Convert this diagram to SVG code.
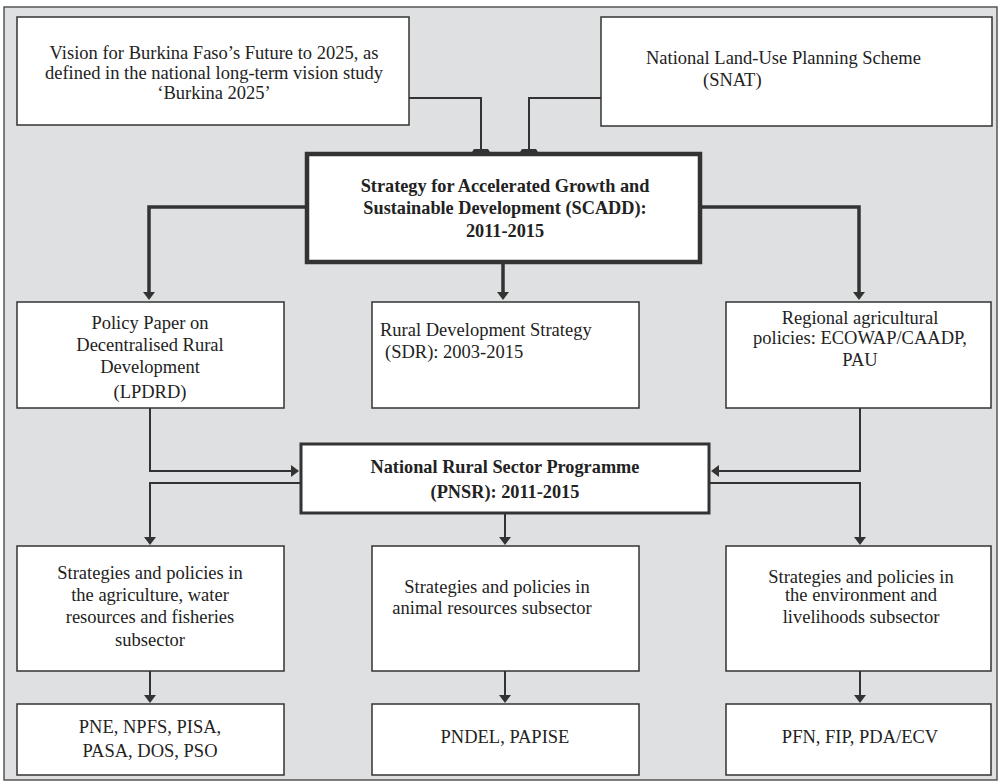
<svg xmlns="http://www.w3.org/2000/svg" width="1005" height="783" viewBox="0 0 1005 783">
<defs>
<style>
.frame{fill:#dfe0e2;stroke:#555;stroke-width:1.5}
.box{fill:#fff;stroke:#333;stroke-width:1.5}
.bold-box{fill:#fff;stroke:#333;stroke-width:4.5}
.mid-box{fill:#fff;stroke:#333;stroke-width:3}
.t{font-family:"Liberation Serif","Times New Roman",serif;font-size:18.5px;fill:#222;text-anchor:middle}
.tb{font-family:"Liberation Serif","Times New Roman",serif;font-size:18.3px;font-weight:bold;fill:#222;text-anchor:middle}
.tl{font-family:"Liberation Serif","Times New Roman",serif;font-size:18.5px;fill:#222;text-anchor:start}
.c{fill:none;stroke:#333;stroke-width:2}
.ct{fill:none;stroke:#333;stroke-width:3.5}
.head{fill:#333}
</style>
<marker id="arr" viewBox="0 0 8 12" refX="0" refY="6" markerWidth="8" markerHeight="12" markerUnits="userSpaceOnUse" orient="auto">
<path d="M0,0 L8,6 L0,12 z" class="head"/>
</marker>
<marker id="flat" viewBox="0 0 3 18" refX="0" refY="9" markerWidth="3" markerHeight="18" markerUnits="userSpaceOnUse" orient="auto">
<path d="M0,2 L3,0 L3,18 L0,16 z" class="head"/>
</marker>
</defs>
<rect class="frame" x="4" y="7" width="993" height="773"/>

<g id="connectors">
<path class="c" d="M409,98 H481 V149" marker-end="url(#flat)"/>
<path class="c" d="M601,98 H529 V149" marker-end="url(#flat)"/>
<path class="ct" d="M306,207 H149 V292" marker-end="url(#arr)"/>
<path class="ct" d="M503,263 V292" marker-end="url(#arr)"/>
<path class="ct" d="M701,207 H859 V292" marker-end="url(#arr)"/>
<path class="c" d="M150,408 V471 H291" marker-end="url(#arr)"/>
<path class="c" d="M860,408 V471 H719" marker-end="url(#arr)"/>
<path class="c" d="M300,483 H150 V537" marker-end="url(#arr)"/>
<path class="c" d="M505,514 V537" marker-end="url(#arr)"/>
<path class="c" d="M710,483 H860 V537" marker-end="url(#arr)"/>
<path class="c" d="M150,671 V695" marker-end="url(#arr)"/>
<path class="c" d="M505,671 V695" marker-end="url(#arr)"/>
<path class="c" d="M860,671 V695" marker-end="url(#arr)"/>
</g>

<g id="vision">
<rect class="box" x="17" y="17" width="392" height="108"/>
<text class="t" x="214" y="59">Vision for Burkina Faso’s Future to 2025, as</text>
<text class="t" x="214" y="79">defined in the national long-term vision study</text>
<text class="t" x="214" y="99">‘Burkina 2025’</text>
</g>

<g id="snat">
<rect class="box" x="601" y="17" width="391" height="109"/>
<text class="tl" x="646" y="64">National Land-Use Planning Scheme</text>
<text class="tl" x="703" y="86">(SNAT)</text>
</g>

<g id="scadd">
<rect class="bold-box" x="307" y="154" width="393" height="108"/>
<text class="tb" x="505" y="192">Strategy for Accelerated Growth and</text>
<text class="tb" x="505" y="214">Sustainable Development (SCADD):</text>
<text class="tb" x="505" y="237">2011-2015</text>
</g>

<g id="lpdrd">
<rect class="box" x="17" y="302" width="267" height="106"/>
<text class="t" x="150" y="329">Policy Paper on</text>
<text class="t" x="150" y="351">Decentralised Rural</text>
<text class="t" x="150" y="373">Development</text>
<text class="t" x="150" y="398">(LPDRD)</text>
</g>

<g id="sdr">
<rect class="box" x="372" y="302" width="267" height="106"/>
<text class="tl" x="380" y="336">Rural Development Strategy</text>
<text class="tl" x="385" y="358">(SDR): 2003-2015</text>
</g>

<g id="regional">
<rect class="box" x="726" y="302" width="265" height="106"/>
<text class="t" x="860" y="324">Regional agricultural</text>
<text class="t" x="860" y="344">policies: ECOWAP/CAADP,</text>
<text class="t" x="860" y="366">PAU</text>
</g>

<g id="pnsr">
<rect class="mid-box" x="301" y="444" width="408" height="69"/>
<text class="tb" x="505" y="473">National Rural Sector Programme</text>
<text class="tb" x="505" y="498">(PNSR): 2011-2015</text>
</g>

<g id="agri">
<rect class="box" x="17" y="546" width="267" height="125"/>
<text class="t" x="150" y="579">Strategies and policies in</text>
<text class="t" x="150" y="601">the agriculture, water</text>
<text class="t" x="150" y="623">resources and fisheries</text>
<text class="t" x="150" y="646">subsector</text>
</g>

<g id="animal">
<rect class="box" x="372" y="546" width="267" height="125"/>
<text class="t" x="497" y="593">Strategies and policies in</text>
<text class="t" x="492" y="614">animal resources subsector</text>
</g>

<g id="environment">
<rect class="box" x="726" y="546" width="265" height="125"/>
<text class="t" x="861" y="583">Strategies and policies in</text>
<text class="t" x="861" y="601">the environment and</text>
<text class="t" x="861" y="623">livelihoods subsector</text>
</g>

<g id="agri-prog">
<rect class="box" x="17" y="704" width="267" height="71"/>
<text class="t" x="150" y="733">PNE, NPFS, PISA,</text>
<text class="t" x="150" y="757">PASA, DOS, PSO</text>
</g>

<g id="animal-prog">
<rect class="box" x="372" y="704" width="267" height="71"/>
<text class="t" x="505" y="743">PNDEL, PAPISE</text>
</g>

<g id="env-prog">
<rect class="box" x="726" y="704" width="265" height="71"/>
<text class="t" x="860" y="743">PFN, FIP, PDA/ECV</text>
</g>
</svg>
